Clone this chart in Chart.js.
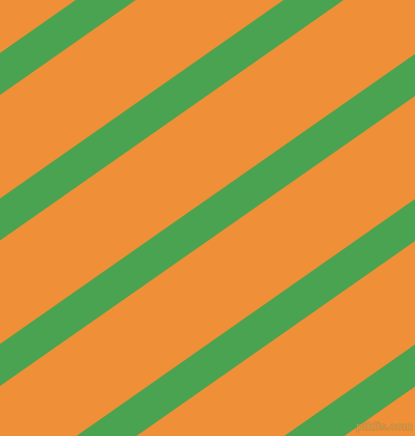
<!DOCTYPE html>
<html>
<head>
<meta charset="utf-8">
<script src="https://cdn.jsdelivr.net/npm/chart.js@4"></script>
<style>
html,body{margin:0;padding:0;background:#EF8F38;overflow:hidden;}
canvas{display:block;}
</style>
</head>
<body>
<canvas id="c" width="415" height="436"></canvas>
<script>
// Stripe centre lines: endpoints (x, y in pixels of the 415x436 image)
const stripeX = [-40, 455];
const stripe1 = [102, -244.5];
const stripe2 = [247.5, -99];
const stripe3 = [393, 47];
const stripe4 = [538.5, 192];
const stripe5 = [684, 337.5];
const stripes = [stripe1, stripe2, stripe3, stripe4, stripe5];
const watermark = 'piklis.com';

const bgColor = '#EF8F38';
const stripeColor = '#4AA350';

const bgPlugin = {
  id: 'bg',
  beforeDraw(chart) {
    const ctx = chart.ctx;
    ctx.save();
    ctx.fillStyle = bgColor;
    ctx.fillRect(0, 0, chart.width, chart.height);
    ctx.restore();
  },
  afterDraw(chart) {
    const ctx = chart.ctx;
    ctx.save();
    ctx.font = 'bold 10px "DejaVu Sans", sans-serif';
    ctx.textAlign = 'right';
    ctx.textBaseline = 'middle';
    ctx.fillStyle = 'rgba(200,160,80,0.55)';
    ctx.strokeStyle = 'rgba(150,120,60,0.35)';
    ctx.lineWidth = 1;
    ctx.strokeText(watermark, 413, 427);
    ctx.fillText(watermark, 413, 427);
    ctx.restore();
  }
};

new Chart(document.getElementById('c'), {
  type: 'line',
  data: {
    datasets: stripes.map(s => ({
      data: stripeX.map((x, i) => ({ x: x, y: s[i] })),
      borderColor: stripeColor,
      borderWidth: 34.4,
      borderCapStyle: 'butt',
      pointRadius: 0,
      fill: false,
      tension: 0
    }))
  },
  options: {
    responsive: false,
    animation: false,
    events: [],
    layout: { padding: 0 },
    plugins: { legend: { display: false }, tooltip: { enabled: false }, title: { display: false } },
    scales: {
      x: { type: 'linear', min: 0, max: 415, display: false },
      y: { type: 'linear', min: 0, max: 436, reverse: true, display: false }
    }
  },
  plugins: [bgPlugin]
});
</script>
</body>
</html>
